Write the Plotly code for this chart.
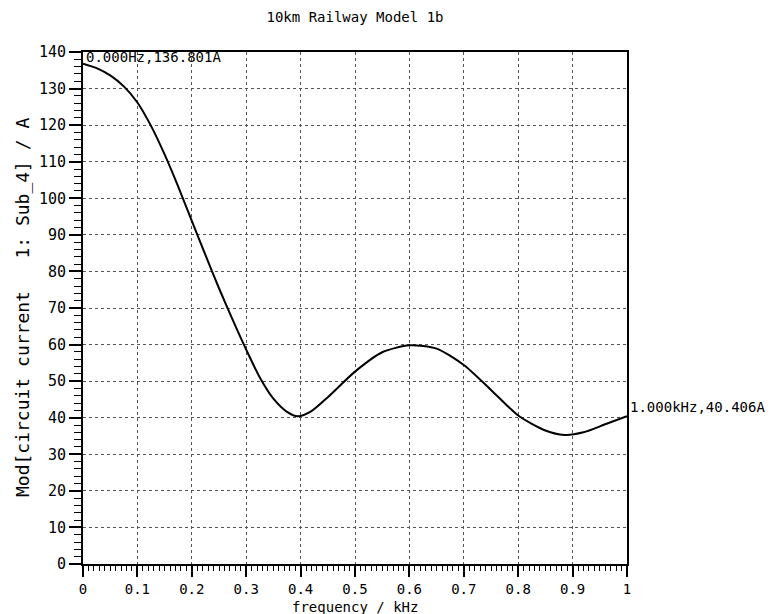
import plotly.graph_objects as go

# Data
freq_khz = [0.0, 0.025, 0.05, 0.075, 0.1, 0.125, 0.15, 0.175, 0.2, 0.225, 0.25,
            0.275, 0.3, 0.325, 0.35, 0.375, 0.395, 0.42, 0.45, 0.5, 0.55,
            0.6, 0.65, 0.7, 0.75, 0.8, 0.85, 0.885, 0.92, 0.96, 1.0]
current_a = [136.801, 135.6, 133.6, 130.6, 126.2, 119.8, 112.0, 103.2, 93.8, 84.5, 75.4,
             66.8, 58.6, 51.0, 45.2, 41.6, 40.4, 41.8, 45.6, 52.6, 57.9,
             59.8, 58.9, 54.4, 47.6, 40.6, 36.5, 35.3, 36.0, 38.2, 40.406]

x_tick_vals = [0, 0.1, 0.2, 0.3, 0.4, 0.5, 0.6, 0.7, 0.8, 0.9, 1.0]
x_tick_text = ["0", "0.1", "0.2", "0.3", "0.4", "0.5", "0.6", "0.7", "0.8", "0.9", "1"]

title_text = "10km Railway Model 1b"
x_title = "frequency / kHz"
y_title = "Mod[circuit current   1: Sub_4] / A"
start_label = "0.000Hz,136.801A"
end_label = "1.000kHz,40.406A"

FONT = "DejaVu Sans Mono"

fig = go.Figure()
fig.add_trace(go.Scatter(x=freq_khz, y=current_a, mode="lines",
                         line=dict(color="black", width=2, shape="spline", smoothing=0.7),
                         showlegend=False, hoverinfo="skip"))

# point labels
fig.add_annotation(x=0, y=1, xref="paper", yref="paper", text=start_label,
                   showarrow=False, xanchor="left", yanchor="top", xshift=1, yshift=5,
                   font=dict(family=FONT, size=14, color="black"))
fig.add_annotation(x=freq_khz[-1], y=current_a[-1], xref="x", yref="y", text=end_label,
                   showarrow=False, xanchor="left", yanchor="middle", xshift=1, yshift=9,
                   font=dict(family=FONT, size=14, color="black"))

# axis titles (placed as annotations for exact position)
fig.add_annotation(x=0.5, y=0, xref="paper", yref="paper", text=x_title,
                   showarrow=False, xanchor="center", yanchor="top", yshift=-33,
                   font=dict(family=FONT, size=14, color="black"))
fig.add_annotation(x=0, y=0.5, xref="paper", yref="paper", text=y_title, textangle=-90,
                   showarrow=False, xanchor="center", yanchor="middle", xshift=-61,
                   font=dict(family=FONT, size=18, color="black"))

# the page adds an 8px body margin, so the figure is sized/offset to compensate
fig.update_layout(
    width=767, height=606,
    margin=dict(l=75, r=148, t=44, b=50, autoexpand=False),
    paper_bgcolor="white", plot_bgcolor="white",
    font=dict(family=FONT, size=14, color="black"),
    title=dict(text=title_text, x=0.5, xref="paper", xanchor="center",
               y=1 - 9 / 606, yref="container", yanchor="middle",
               font=dict(family=FONT, size=14, color="black")),
)

fig.update_xaxes(
    range=[0, 1], tickvals=x_tick_vals, ticktext=x_tick_text,
    ticks="outside", ticklen=11, tickwidth=2, tickcolor="black",
    minor=dict(dtick=0.01, tick0=0, ticks="outside", ticklen=5, tickwidth=1,
               tickcolor="black", showgrid=False),
    showline=True, linecolor="black", linewidth=2, mirror=True,
    showgrid=True, gridcolor="#555", gridwidth=1, griddash="dot",
    zeroline=False, automargin=False,
    tickfont=dict(family=FONT, size=14),
)
fig.update_yaxes(
    range=[0, 140], tickmode="linear", tick0=0, dtick=10,
    ticks="outside", ticklen=12, tickwidth=2, tickcolor="black",
    minor=dict(dtick=2, tick0=0, ticks="outside", ticklen=7, tickwidth=1,
               tickcolor="black", showgrid=False),
    showline=True, linecolor="black", linewidth=2, mirror=True,
    showgrid=True, gridcolor="#555", gridwidth=1, griddash="dot",
    zeroline=False, automargin=False,
    tickfont=dict(family=FONT, size=15),
)

fig.write_html("out.html")
